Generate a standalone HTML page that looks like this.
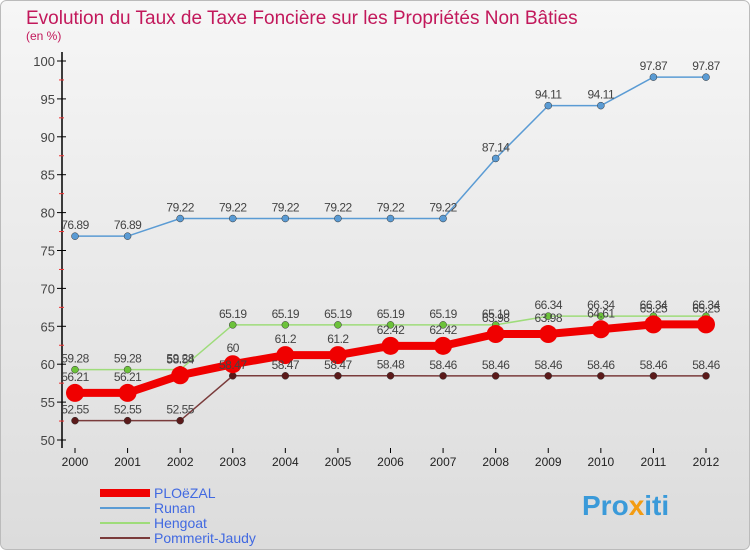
<!DOCTYPE html>
<html><head><meta charset="utf-8"><style>
body{margin:0;width:750px;height:550px;overflow:hidden;font-family:"Liberation Sans",sans-serif}
#c{position:absolute;left:0;top:0}
</style></head><body>
<svg id="c" width="750" height="550">
<defs><linearGradient id="bg" x1="0" y1="0" x2="0" y2="1"><stop offset="0" stop-color="#f6f6f6"/><stop offset="1" stop-color="#dcdcdc"/></linearGradient></defs>
<rect x="0.5" y="0.5" width="749" height="549" rx="6" fill="url(#bg)" stroke="#bbb"/>
<text x="26" y="24" font-size="19" fill="#c2185b">Evolution du Taux de Taxe Foncière sur les Propriétés Non Bâties</text>
<text x="26" y="40" font-size="12" fill="#c2185b">(en %)</text>
<g id="axes"></g><g id="series"></g><g id="legend"></g>
<text x="582" y="515" font-size="28" font-weight="bold" fill="#3a9ad9">Pro<tspan fill="#f39c12">x</tspan>iti</text>
</svg>
<script>
const years=[2000,2001,2002,2003,2004,2005,2006,2007,2008,2009,2010,2011,2012];
const ploezal=[56.21,56.21,58.54,60,61.2,61.2,62.42,62.42,63.98,63.98,64.61,65.25,65.25];
const runan=[76.89,76.89,79.22,79.22,79.22,79.22,79.22,79.22,87.14,94.11,94.11,97.87,97.87];
const hengoat=[59.28,59.28,59.28,65.19,65.19,65.19,65.19,65.19,65.19,66.34,66.34,66.34,66.34];
const pommerit=[52.55,52.55,52.55,58.47,58.47,58.47,58.48,58.46,58.46,58.46,58.46,58.46,58.46];
const yTicks=[50,55,60,65,70,75,80,85,90,95,100];
const NS="http://www.w3.org/2000/svg";
const X=i=>75+i*(706-75)/12, Y=v=>440-(v-50)*(440-61)/50;
function mk(t,a,p){const e=document.createElementNS(NS,t);for(const k in a)e.setAttribute(k,a[k]);p.appendChild(e);return e;}
const ax=document.getElementById('axes');
let l=mk('line',{x1:62,y1:52,x2:62,y2:448,stroke:'#000','stroke-width':1.5},ax);


yTicks.forEach(v=>{
 let t=mk('line',{x1:57,x2:66,y1:Y(v),y2:Y(v),stroke:'#000'},ax);
 
 
 if(v<100){let m=mk('line',{x1:59,x2:64,y1:Y(v+2.5),y2:Y(v+2.5),stroke:'#e33'},ax);
 
 }
 let s=mk('text',{x:55,y:Y(v)+5,'text-anchor':'end','font-size':13,fill:'#444'},ax);s.textContent=v;
 
 
});
years.forEach((y,i)=>{
 let t=mk('line',{x1:X(i),x2:X(i),y1:448,y2:453,stroke:'#000'},ax);
 
 
 let s=mk('text',{x:X(i),y:466,'text-anchor':'middle','font-size':12,fill:'#222'},ax);s.textContent=y;
 
 
});
const sg=document.getElementById('series');
const defs=[['runan',runan,'#5a9bd4',1.5,3.5],['hengoat',hengoat,'#9edc7a',1.5,3.5,'#6cc23a'],['pommerit',pommerit,'#7a3b3b',1.5,3.5,'#5b1a1a'],['ploezal',ploezal,'#f00000',8,9]];
defs.forEach(([n,d,c,w,r,dc])=>{
 let p=mk('polyline',{points:d.map((v,i)=>X(i)+','+Y(v)).join(' '),fill:'none',stroke:c,'stroke-width':w},sg);
 
 
 d.forEach((v,i)=>{
  let ci=mk('circle',{cx:X(i),cy:Y(v),r:r,fill:dc||c,stroke:n==='ploezal'?'none':'#333','stroke-width':0.5},sg);
  
  
 });
});
defs.forEach(([n,d])=>{
 d.forEach((v,i)=>{
  let s=mk('text',{x:X(i),y:Y(v)-(n==='ploezal'?12:7),'text-anchor':'middle','font-size':12,fill:'#444','letter-spacing':'-0.5'},sg);s.textContent=v;
  
  
 });
});
const lg=document.getElementById('legend');
[['PLOëZAL','#f00000',8],['Runan','#5a9bd4',2],['Hengoat','#9edc7a',2],['Pommerit-Jaudy','#7a3b3b',2]].forEach(([n,c,w],i)=>{
 const y=493+i*15;
 let l=mk('line',{x1:100,x2:150,y1:y,y2:y,stroke:c,'stroke-width':w},lg);
 
 
 let t=mk('text',{x:154,y:y+5,'font-size':14,fill:'#4169e1'},lg);t.textContent=n;
 
 
});
</script>
</body></html>
